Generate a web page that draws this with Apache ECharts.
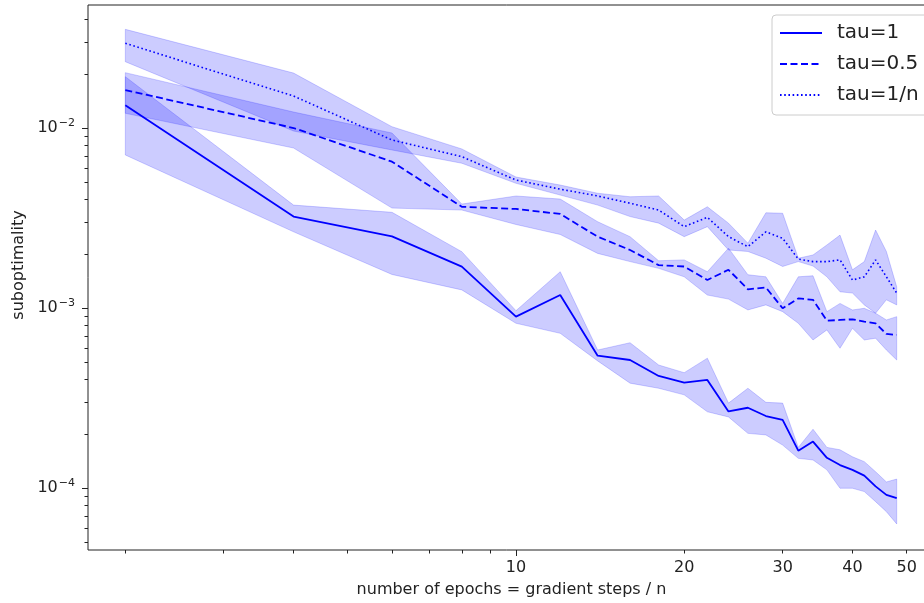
<!DOCTYPE html>
<html lang="en">
<head>
	<meta charset="UTF-8">
	<title>suboptimality vs epochs</title>
	<script type="text/javascript" src="https://cdn.jsdelivr.net/npm/echarts@6.0.0/dist/echarts.min.js"></script>
	<style>
		html, body { margin: 0; padding: 0; background: #fff; }
		#chart_show { width: 924px; height: 603px; }
	</style>
</head>
<body>
	<div id="chart_show"></div>
	<script>
		// number of epochs (x)
		var epochs = [2, 4, 6, 8, 10, 12, 14, 16, 18, 20, 22, 24, 26, 28, 30, 32, 34, 36, 38, 40, 42, 44, 46, 48];

		// tau=1
		var tau1 = [0.01337, 0.00322, 0.00250, 0.001696, 0.000895, 0.00118, 0.000543, 0.000514, 0.000419, 0.000385, 0.000398, 0.000266,
			0.000279, 0.000251, 0.000239, 0.000161, 0.000181, 0.000147, 0.000134, 0.000126, 0.000117, 0.000102, 0.0000915, 0.0000877];
		var tau1Hi = [0.01928, 0.00373, 0.00340, 0.002055, 0.000966, 0.00159, 0.000584, 0.000641, 0.000482, 0.000437, 0.000526, 0.000296,
			0.000358, 0.000299, 0.000296, 0.000168, 0.000212, 0.000168, 0.000163, 0.000149, 0.000140, 0.000123, 0.000108, 0.000112];
		var tau1Lo = [0.00708, 0.00265, 0.001535, 0.00126, 0.000822, 0.000723, 0.000508, 0.000382, 0.000358, 0.000329, 0.000265, 0.000248,
			0.000201, 0.000197, 0.000173, 0.000146, 0.000143, 0.000126, 0.0000996, 0.0000996, 0.0000954, 0.0000839, 0.0000738, 0.0000631];

		// tau=0.5
		var tauHalf = [0.01626, 0.0100, 0.0065, 0.00365, 0.00355, 0.00333, 0.00249, 0.0021, 0.00173, 0.0017, 0.00143, 0.00163,
			0.00127, 0.0013, 0.000996, 0.00113, 0.00111, 0.00085, 0.000858, 0.000865, 0.000839, 0.000822, 0.000717, 0.000708];
		var tauHalfHi = [0.0203, 0.01227, 0.00938, 0.00378, 0.00419, 0.00403, 0.003015, 0.00249, 0.00183, 0.00185, 0.00159, 0.00215,
			0.00153, 0.00149, 0.00106, 0.00149, 0.00151, 0.000954, 0.00106, 0.000975, 0.000996, 0.000935, 0.000858, 0.000895];
		var tauHalfLo = [0.01207, 0.00774, 0.00359, 0.0035, 0.00291, 0.00256, 0.00201, 0.00181, 0.00166, 0.00149, 0.00118, 0.00112,
			0.000975, 0.00104, 0.000954, 0.000822, 0.000664, 0.000755, 0.000597, 0.000771, 0.000664, 0.000679, 0.000584, 0.000514];

		// tau=1/n
		var tauN = [0.02955, 0.01506, 0.00858, 0.00693, 0.00514, 0.00457, 0.00419, 0.00382, 0.0035, 0.00283, 0.00319, 0.00249,
			0.00219, 0.00265, 0.00244, 0.00187, 0.00181, 0.00181, 0.00185, 0.00143, 0.00149, 0.00185, 0.00149, 0.00121];
		var tauNHi = [0.03534, 0.0202, 0.01017, 0.00765, 0.00534, 0.00482, 0.00434, 0.00415, 0.00419, 0.00308, 0.00365, 0.00296,
			0.00229, 0.00338, 0.00336, 0.00189, 0.00197, 0.00224, 0.00254, 0.00163, 0.00181, 0.00271, 0.00206, 0.00131];
		var tauNLo = [0.02335, 0.00962, 0.00755, 0.00637, 0.00493, 0.00424, 0.00373, 0.00322, 0.00296, 0.00249, 0.00283, 0.0021,
			0.00206, 0.00189, 0.0017, 0.00181, 0.00171, 0.00149, 0.00123, 0.00121, 0.00104, 0.000935, 0.00111, 0.00104];

		// ticks
		var xLabels = [10, 20, 30, 40, 50];
		var xMajor = [10];
		var xMinor = [2, 3, 4, 5, 6, 7, 8, 9, 20, 30, 40, 50];
		var yMajor = [0.0001, 0.001, 0.01];
		var yMinor = [0.00005, 0.00006, 0.00007, 0.00008, 0.00009,
			0.0002, 0.0003, 0.0004, 0.0005, 0.0006, 0.0007, 0.0008, 0.0009,
			0.002, 0.003, 0.004, 0.005, 0.006, 0.007, 0.008, 0.009,
			0.02, 0.03, 0.04];

		var FONT = 'DejaVu Sans';
		var BLUE = '#0000ff';
		var xMin = 1.715, xMax = 56.2;
		var yMin = 0.0000452, yMax = 0.04825;

		function pairs(ys) {
			return epochs.map(function (x, i) { return [x, ys[i]]; });
		}

		// shaded band between lo and hi, drawn once as a polygon
		function band(name, lo, hi) {
			return {
				name: name,
				type: 'custom',
				silent: true,
				z: 1,
				data: epochs.map(function (x, i) { return [x, lo[i], hi[i]]; }),
				encode: { x: 0, y: [1, 2] },
				renderItem: function (params, api) {
					if (params.dataIndex !== 0) return;
					var pts = [];
					for (var i = 0; i < epochs.length; i++) pts.push(api.coord([epochs[i], hi[i]]));
					for (var j = epochs.length - 1; j >= 0; j--) pts.push(api.coord([epochs[j], lo[j]]));
					return {
						type: 'polygon',
						shape: { points: pts },
						style: { fill: 'rgba(0,0,255,0.2)', stroke: 'rgba(0,0,255,0.18)', lineWidth: 1 }
					};
				}
			};
		}

		function line(name, ys, dash, width) {
			return {
				name: name,
				type: 'line',
				z: 3,
				symbol: 'none',
				data: pairs(ys),
				lineStyle: { color: BLUE, width: width, type: dash },
				itemStyle: { color: BLUE }
			};
		}

		function supLabel(v) {
			var e = Math.round(Math.log10(v));
			return '{b|10}{s|' + (e < 0 ? '\u2212' + (-e) : e) + '}';
		}

		var oChart = echarts.init(document.getElementById('chart_show'), null, {renderer: 'canvas'});

		var chartopt = {
			animation: false,
			backgroundColor: '#fff',
			grid: {
				left: 88, top: 5, right: -11, bottom: 53,
				containLabel: false,
				outerBoundsMode: 'none',
				show: true, borderColor: '#222', borderWidth: 1, backgroundColor: 'transparent'
			},
			legend: {
				data: ['tau=1', 'tau=0.5', 'tau=1/n'],
				orient: 'vertical',
				left: 772, top: 15,
				itemWidth: 42, itemHeight: 14, itemGap: 9,
				padding: [7, 14, 9, 7],
				backgroundColor: 'rgba(255,255,255,0.8)',
				borderColor: '#cccccc', borderWidth: 1, borderRadius: 4,
				itemStyle: { opacity: 0 },
				textStyle: {
					fontFamily: FONT, fontSize: 20, color: '#222', lineHeight: 22,
					rich: { t: { fontFamily: FONT, fontSize: 20, color: '#222', padding: [0, 0, 0, 10] } }
				},
				formatter: function (n) { return '{t|' + n + '}'; }
			},
			xAxis: [{
				type: 'log', logBase: 10, min: xMin, max: xMax,
				name: 'number of epochs = gradient steps / n',
				nameLocation: 'middle', nameGap: 32,
				nameTextStyle: { fontFamily: FONT, fontSize: 16, color: '#222' },
				axisLine: { show: false },
				splitLine: { show: false },
				axisTick: { show: true, inside: false, length: 6, customValues: xMajor, lineStyle: { color: '#222', width: 1 } },
				axisLabel: { show: true, margin: 10, customValues: xLabels, fontFamily: FONT, fontSize: 16, color: '#222',
					formatter: function (v) { return String(Math.round(v)); } }
			}, {
				type: 'log', logBase: 10, min: xMin, max: xMax,
				position: 'bottom', offset: 0,
				axisLine: { show: false },
				splitLine: { show: false },
				axisTick: { show: true, inside: false, length: 3.5, customValues: xMinor, lineStyle: { color: '#222', width: 1 } },
				axisLabel: { show: false }
			}],
			yAxis: [{
				type: 'log', logBase: 10, min: yMin, max: yMax,
				name: 'suboptimality',
				nameLocation: 'middle', nameGap: 60,
				nameTextStyle: { fontFamily: FONT, fontSize: 16, color: '#222', padding: [0, 0, 0, 25] },
				axisLine: { show: false },
				splitLine: { show: false },
				axisTick: { show: true, inside: false, length: 6, customValues: yMajor, lineStyle: { color: '#222', width: 1 } },
				axisLabel: {
					show: true, margin: 13, customValues: yMajor, color: '#222',
					formatter: supLabel,
					rich: {
						b: { fontFamily: FONT, fontSize: 16, color: '#222' },
						s: { fontFamily: FONT, fontSize: 11, color: '#222', padding: [0, 0, 9, 1] }
					}
				}
			}, {
				type: 'log', logBase: 10, min: yMin, max: yMax,
				position: 'left', offset: 0,
				axisLine: { show: false },
				splitLine: { show: false },
				axisTick: { show: true, inside: false, length: 3.5, customValues: yMinor, lineStyle: { color: '#222', width: 1 } },
				axisLabel: { show: false }
			}],
			series: [
				band('band1', tau1Lo, tau1Hi),
				band('band2', tauHalfLo, tauHalfHi),
				band('band3', tauNLo, tauNHi),
				line('tau=1', tau1, 'solid', 1.8),
				line('tau=0.5', tauHalf, [7, 3.5], 1.8),
				line('tau=1/n', tauN, [1.6, 2.6], 1.6)
			]
		};

		oChart.setOption(chartopt);
	</script>
</body>
</html>
